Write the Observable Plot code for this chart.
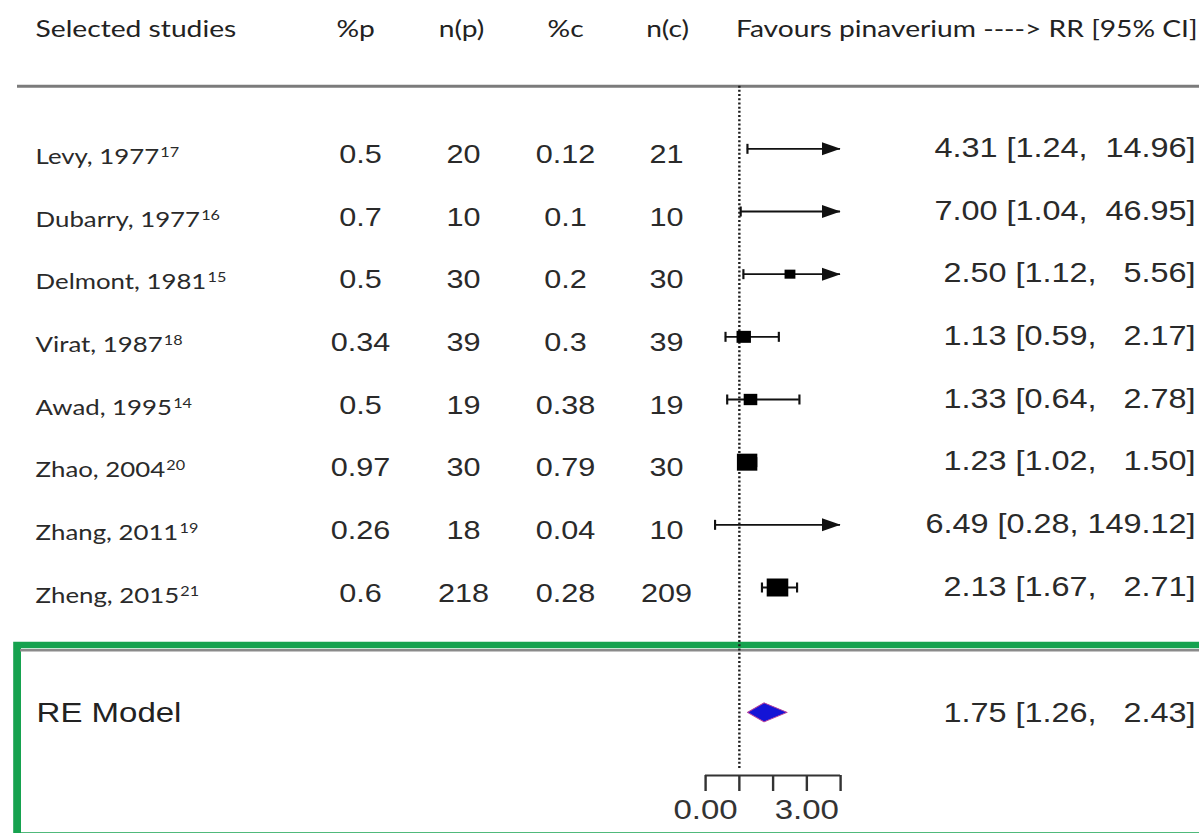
<!DOCTYPE html>
<html><head><meta charset="utf-8">
<script src="https://cdn.jsdelivr.net/npm/d3@7"></script>
<script src="https://cdn.jsdelivr.net/npm/@observablehq/plot@0.6"></script>
<style>
html,body{margin:0;padding:0;background:#fff;overflow:hidden}
</style></head><body><div id="chart"></div>
<script>
// ---- data ----
const studies = ["Levy, 1977","Dubarry, 1977","Delmont, 1981","Virat, 1987","Awad, 1995","Zhao, 2004","Zhang, 2011","Zheng, 2015"];
const refNums = [17,16,15,18,14,20,19,21];
const pctP = [0.5,0.7,0.5,0.34,0.5,0.97,0.26,0.6];
const nP = [20,10,30,39,19,30,18,218];
const pctC = [0.12,0.1,0.2,0.3,0.38,0.79,0.04,0.28];
const nC = [21,10,30,39,19,30,10,209];
const rr = [4.31,7.00,2.50,1.13,1.33,1.23,6.49,2.13];
const ciLow = [1.24,1.04,1.12,0.59,0.64,1.02,0.28,1.67];
const ciHigh = [14.96,46.95,5.56,2.17,2.78,1.50,149.12,2.71];
const weights = [6.0,2.5,11.0,14.6,13.8,20.7,1.0,21.9]; // estimated study weights (square size)
const reLabel = "RE Model";
const reEst = 1.75, reLow = 1.26, reHigh = 2.43;
const headers = ["Selected studies","%p","n(p)","%c","n(c)","Favours pinaverium ----> RR [95% CI]"];
const axisTicks = [0,1,2,3,4];
const axisLabelled = [0,3];
const refLine = 1;

// ---- layout (pixels of the 1199-wide picture, drawn in a 1.2x narrower space then stretched) ----
const W = 999, H = 833, SX = 1199 / W;
const ML = 705 / SX, MR = W - 840 / SX, MT = 23, MB = 58;
const rowPx = (H - MT - MB) / 12;
const dxAt = px => px / SX - ML;
const f2 = v => v.toFixed(2);
const ciText = (e, l, u) => `${f2(e)} [${f2(l)}, ${"\u00A0".repeat(Math.max(0, 6 - f2(u).length))}${f2(u)}]`;
const xMax = axisTicks[axisTicks.length - 1];

const rows = studies.map((s, i) => ({
  label: s, row: studies.length - i,
  pctP: pctP[i], nP: nP[i], pctC: pctC[i], nC: nC[i],
  rr: rr[i], lo: ciLow[i], hi: ciHigh[i], w: weights[i],
  txt: ciText(rr[i], ciLow[i], ciHigh[i])
}));
const reRow = -1;
const ends = rows.flatMap(d => d.hi <= xMax ? [{x: d.lo, row: d.row}, {x: d.hi, row: d.row}] : [{x: d.lo, row: d.row}]);
const arrows = rows.filter(d => d.hi > xMax);
const hh = 9.5 / rowPx;
const diamond = [
  {x: reLow, y1: reRow, y2: reRow},
  {x: reEst, y1: reRow - hh, y2: reRow + hh},
  {x: reHigh, y1: reRow, y2: reRow}
];

const whisker = {draw(ctx, size) { const h = Math.sqrt(size / Math.PI); ctx.moveTo(0, -h); ctx.lineTo(0, h); }};
const arrowHead = {draw(ctx) { ctx.moveTo(0, 0); ctx.lineTo(-15.5, -6.5); ctx.lineTo(-15.5, 6.5); ctx.closePath(); }};

const ink = "#2a2a2a";
const LABF = "Lato, 'Open Sans', sans-serif";
const NUMF = "'Liberation Sans', Arial, sans-serif";

const colText = (key, cx) => Plot.text(rows, {
  y: "row", text: d => String(d[key]), frameAnchor: "left", dx: dxAt(cx),
  textAnchor: "middle", lineAnchor: "bottom", dy: 14,
  fontFamily: NUMF, fontSize: 25.5, fill: ink
});
const headerPos = [[35, "start"], [355, "middle"], [461, "middle"], [565, "middle"], [667, "middle"], [1197, "end"]];
const headerMarks = headers.map((h, i) => Plot.text([h], {
  y: 10, frameAnchor: "left", dx: dxAt(headerPos[i][0]), textAnchor: headerPos[i][1],
  lineAnchor: "bottom", dy: 13, fontFamily: LABF, fontSize: 23.5, fill: "#222"
}));

const chart = Plot.plot({
  width: W, height: H,
  marginLeft: ML, marginRight: MR, marginTop: MT, marginBottom: MB,
  x: {domain: [0, xMax], axis: null},
  y: {domain: [-2, 10], axis: null},
  r: {type: "linear", domain: [0, 22], range: [0, 10.2]},
  marks: [
    // highlighted summary box
    Plot.frame({stroke: "#16a24f", strokeWidth: 6.5, fill: "none",
      insetTop: 644.5 - MT, insetBottom: -(835 - (H - MB)), insetLeft: -(ML - 16.5 / SX), insetRight: -(MR + 20)}),
    // header rule and separator rule
    Plot.ruleY([9], {stroke: "#7b7b7b", strokeWidth: 3, insetLeft: -(ML - 17 / SX), insetRight: -MR}),
    Plot.ruleY([0], {stroke: "#8a8a8a", strokeWidth: 2.5, insetLeft: -(ML - 20 / SX), insetRight: -MR}),
    // reference line
    Plot.ruleX([refLine], {y1: 9, y2: -1.9, stroke: "#1e1e1e", strokeWidth: 2, strokeDasharray: "2,2.2"}),
    // axis
    Plot.ruleY([-2], {x1: axisTicks[0], x2: xMax, stroke: "#333", strokeWidth: 2}),
    Plot.axisX({ticks: axisTicks, tickFormat: d => axisLabelled.includes(d) ? d.toFixed(2) : "",
      tickSize: 16, tickPadding: 8, fontSize: 27.5, fontFamily: NUMF, stroke: "#333", strokeWidth: 2,
      fill: "#333", label: null}),
    // confidence intervals
    Plot.ruleY(rows, {y: "row", x1: "lo", x2: d => Math.min(d.hi, xMax), stroke: "#111", strokeWidth: 1.9}),
    Plot.dot(ends, {x: "x", y: "row", symbol: whisker, r: 5, fill: "none", stroke: "#111", strokeWidth: 1.8}),
    Plot.dot(arrows, {x: xMax, y: "row", symbol: arrowHead, r: 5, fill: "#111", stroke: "none"}),
    Plot.dot(rows, {x: "rr", y: "row", r: "w", symbol: "square", fill: "#000", stroke: "none", clip: true}),
    // summary diamond
    Plot.areaY(diamond, {x: "x", y1: "y1", y2: "y2", fill: "#1414d6", stroke: "#b8409c", strokeWidth: 1}),
    // table text
    ...headerMarks,
    Plot.text(rows, {y: "row", text: "label", frameAnchor: "left", dx: dxAt(35), textAnchor: "start",
      lineAnchor: "bottom", dy: 15, fontFamily: LABF, fontSize: 21.5, fill: ink}),
    colText("pctP", 360), colText("nP", 463), colText("pctC", 565), colText("nC", 666),
    Plot.text(rows, {y: "row", text: "txt", frameAnchor: "left", dx: dxAt(1195), textAnchor: "end",
      lineAnchor: "bottom", dy: 8, fontFamily: NUMF, fontSize: 27, fill: ink}),
    Plot.text([reLabel], {y: reRow, frameAnchor: "left", dx: dxAt(36), textAnchor: "start",
      lineAnchor: "bottom", dy: 9.4, fontFamily: NUMF, fontSize: 27.5, fill: "#222"}),
    Plot.text([ciText(reEst, reLow, reHigh)], {y: reRow, frameAnchor: "left", dx: dxAt(1195), textAnchor: "end",
      lineAnchor: "bottom", dy: 9.4, fontFamily: NUMF, fontSize: 27, fill: ink})
  ]
});
// reference-number superscripts on the study labels
const NS = "http://www.w3.org/2000/svg";
chart.querySelectorAll("text").forEach(t => {
  const i = studies.indexOf(t.textContent);
  if (i < 0) return;
  const ts = document.createElementNS(NS, "tspan");
  ts.setAttribute("dy", "-7");
  ts.setAttribute("dx", "1");
  ts.setAttribute("font-size", "13.5");
  ts.textContent = String(refNums[i]);
  t.appendChild(ts);
});
chart.setAttribute("width", 1199);
chart.setAttribute("height", H);
chart.setAttribute("preserveAspectRatio", "none");
chart.style.width = "1199px";
chart.style.height = H + "px";
chart.style.maxWidth = "none";
document.getElementById("chart").appendChild(chart);
</script></body></html>
